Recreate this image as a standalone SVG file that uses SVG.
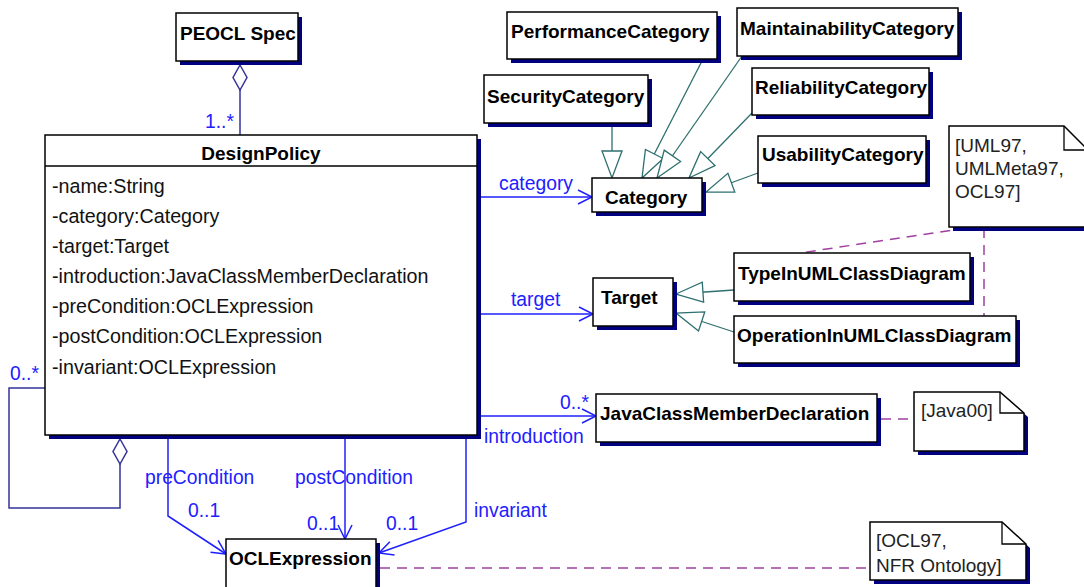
<svg xmlns="http://www.w3.org/2000/svg" width="1084" height="587" viewBox="0 0 1084 587">
<style>
.box{fill:#fff;stroke:#000;stroke-width:1.5}
.sh{fill:#000080}
.cn{font-family:"Liberation Sans",Arial,sans-serif;font-weight:bold;font-size:19px;fill:#000}
.at{font-family:"Liberation Sans",Arial,sans-serif;font-size:19.7px;fill:#111}
.nt{font-family:"Liberation Sans",Arial,sans-serif;font-size:19px;fill:#222}
.lb{font-family:"Liberation Sans",Arial,sans-serif;font-size:19.3px;fill:#2020ff}
.as{fill:none;stroke:#2020ff;stroke-width:1.5}
.ag{fill:none;stroke:#333399;stroke-width:1.5}
.gn{fill:none;stroke:#2f6f6f;stroke-width:1.3}
.dl{fill:none;stroke:#a040a0;stroke-width:1.5;stroke-dasharray:10,7}
</style>
<defs>
<marker id="open" markerUnits="userSpaceOnUse" markerWidth="16" markerHeight="16" refX="15" refY="7" orient="auto" overflow="visible">
<path d="M1,0 L15,7 L1,14" fill="none" stroke="#2020ff" stroke-width="1.5"/>
</marker>
<marker id="gen" markerUnits="userSpaceOnUse" markerWidth="30" markerHeight="24" refX="27" refY="10" orient="auto" overflow="visible">
<path d="M0,0 L27,10 L0,20 Z" fill="#fff" stroke="#2f6f6f" stroke-width="1.3"/>
</marker>
<clipPath id="oclclip"><rect x="870" y="522" width="156" height="55"/></clipPath>
</defs>
<rect width="1084" height="587" fill="#fff"/>

<g id="connectors">
<line class="ag" x1="240" y1="90" x2="240" y2="135"/>
<polygon class="ag" points="240,65 247,77.5 240,90 233,77.5" style="fill:#fff"/>
<polyline class="ag" points="45,388 9,388 9,508 120,508 120,464"/>
<polygon class="ag" points="120,439 127,451.5 120,464 113,451.5" style="fill:#fff"/>
<line class="as" x1="477" y1="197" x2="592" y2="197" marker-end="url(#open)"/>
<line class="as" x1="477" y1="314" x2="593" y2="314" marker-end="url(#open)"/>
<line class="as" x1="477" y1="416" x2="596" y2="416" marker-end="url(#open)"/>
<polyline class="as" points="168,435 168,516 226,554" marker-end="url(#open)"/>
<line class="as" x1="345" y1="435" x2="345" y2="539" marker-end="url(#open)"/>
<polyline class="as" points="466,435 466,522 379,553" marker-end="url(#open)"/>
<line class="gn" x1="612" y1="123" x2="612" y2="178" marker-end="url(#gen)"/>
<line class="gn" x1="703" y1="59" x2="642" y2="178" marker-end="url(#gen)"/>
<line class="gn" x1="742" y1="56" x2="657" y2="178" marker-end="url(#gen)"/>
<line class="gn" x1="752" y1="113" x2="689" y2="178" marker-end="url(#gen)"/>
<line class="gn" x1="758" y1="173" x2="706" y2="192" marker-end="url(#gen)"/>
<line class="gn" x1="734" y1="290" x2="676" y2="294" marker-end="url(#gen)"/>
<line class="gn" x1="734" y1="332" x2="676" y2="313" marker-end="url(#gen)"/>
<line class="dl" x1="967" y1="228" x2="800" y2="253"/>
<line class="dl" x1="984" y1="228" x2="984" y2="316"/>
<line class="dl" x1="881" y1="419" x2="914" y2="419"/>
<line class="dl" x1="380" y1="568" x2="870" y2="568"/>
<text class="lb" x="205" y="128">1..*</text>
<text class="lb" x="10" y="380">0..*</text>
<text class="lb" x="499" y="190">category</text>
<text class="lb" x="511" y="306">target</text>
<text class="lb" x="560" y="409">0..*</text>
<text class="lb" x="484" y="443">introduction</text>
<text class="lb" x="145" y="484">preCondition</text>
<text class="lb" x="188" y="517">0..1</text>
<text class="lb" x="295" y="484">postCondition</text>
<text class="lb" x="307" y="530">0..1</text>
<text class="lb" x="474" y="517">invariant</text>
<text class="lb" x="386" y="530">0..1</text>
</g>

<g id="peocl">
<rect class="sh" x="180" y="17" width="122" height="48"/>
<rect class="box" x="176" y="13" width="122" height="48"/>
<text class="cn" x="180" y="40">PEOCL Spec</text>
</g>

<g id="designpolicy">
<rect class="sh" x="49" y="139" width="432" height="300"/>
<rect class="box" x="45" y="135" width="432" height="300"/>
<line x1="45" y1="166" x2="477" y2="166" stroke="#000" stroke-width="1.5"/>
<text class="cn" x="261" y="160" text-anchor="middle">DesignPolicy</text>
<text class="at" x="52" y="193">-name:String</text>
<text class="at" x="52" y="223">-category:Category</text>
<text class="at" x="52" y="253">-target:Target</text>
<text class="at" x="52" y="283">-introduction:JavaClassMemberDeclaration</text>
<text class="at" x="52" y="313">-preCondition:OCLExpression</text>
<text class="at" x="52" y="343">-postCondition:OCLExpression</text>
<text class="at" x="52" y="374">-invariant:OCLExpression</text>
</g>

<g id="performance">
<rect class="sh" x="511" y="16" width="210" height="47"/>
<rect class="box" x="507" y="12" width="210" height="47"/>
<text class="cn" x="511" y="38">PerformanceCategory</text>
</g>
<g id="maintainability">
<rect class="sh" x="741" y="12" width="221" height="48"/>
<rect class="box" x="737" y="8" width="221" height="48"/>
<text class="cn" x="740" y="35">MaintainabilityCategory</text>
</g>
<g id="security">
<rect class="sh" x="488" y="79" width="164" height="48"/>
<rect class="box" x="484" y="75" width="164" height="48"/>
<text class="cn" x="487" y="103">SecurityCategory</text>
</g>
<g id="reliability">
<rect class="sh" x="756" y="72" width="177" height="47"/>
<rect class="box" x="752" y="68" width="177" height="47"/>
<text class="cn" x="755" y="94">ReliabilityCategory</text>
</g>
<g id="usability">
<rect class="sh" x="762" y="140" width="168" height="47"/>
<rect class="box" x="758" y="136" width="168" height="47"/>
<text class="cn" x="762" y="161">UsabilityCategory</text>
</g>
<g id="category">
<rect class="sh" x="596" y="182" width="110" height="34"/>
<rect class="box" x="592" y="178" width="110" height="34"/>
<text class="cn" x="605" y="204">Category</text>
</g>
<g id="target">
<rect class="sh" x="597" y="282" width="80" height="48"/>
<rect class="box" x="593" y="278" width="80" height="48"/>
<text class="cn" x="601" y="304">Target</text>
</g>
<g id="typeinuml">
<rect class="sh" x="738" y="257" width="236" height="48"/>
<rect class="box" x="734" y="253" width="236" height="48"/>
<text class="cn" x="738" y="280">TypeInUMLClassDiagram</text>
</g>
<g id="operationinuml">
<rect class="sh" x="738" y="320" width="282" height="47"/>
<rect class="box" x="734" y="316" width="282" height="47"/>
<text class="cn" x="737" y="342">OperationInUMLClassDiagram</text>
</g>
<g id="jcmd">
<rect class="sh" x="600" y="398" width="281" height="48"/>
<rect class="box" x="596" y="394" width="281" height="48"/>
<text class="cn" x="600" y="420">JavaClassMemberDeclaration</text>
</g>
<g id="oclexpression">
<rect class="sh" x="230" y="543" width="150" height="60"/>
<rect class="box" x="226" y="539" width="150" height="60"/>
<text class="cn" x="229" y="565">OCLExpression</text>
</g>

<g id="note-uml97">
<polygon class="sh" points="953,130 1068,130 1092,154 1092,231 953,231"/>
<polygon class="box" points="949,126 1064,126 1088,150 1088,227 949,227"/>
<polyline fill="none" stroke="#000" stroke-width="1.3" points="1064,126 1064,150 1088,150"/>
<text class="nt" x="955" y="152">[UML97,</text>
<text class="nt" x="955" y="175">UMLMeta97,</text>
<text class="nt" x="955" y="198">OCL97]</text>
</g>
<g id="note-java00">
<polygon class="sh" points="918,396 1004,396 1028,417 1028,455 918,455"/>
<polygon class="box" points="914,392 1000,392 1024,413 1024,451 914,451"/>
<polyline fill="none" stroke="#000" stroke-width="1.3" points="1000,392 1000,413 1024,413"/>
<text class="nt" x="921" y="417">[Java00]</text>
</g>
<g id="note-ocl97">
<polygon class="sh" points="874,526 1006,526 1030,548 1030,584 874,584"/>
<polygon class="box" points="870,522 1002,522 1026,544 1026,580 870,580"/>
<polyline fill="none" stroke="#000" stroke-width="1.3" points="1002,522 1002,544 1026,544"/>
<g clip-path="url(#oclclip)">
<text class="nt" x="876" y="547">[OCL97,</text>
<text class="nt" x="876" y="572">NFR Ontology]</text>
</g>
</g>
</svg>
